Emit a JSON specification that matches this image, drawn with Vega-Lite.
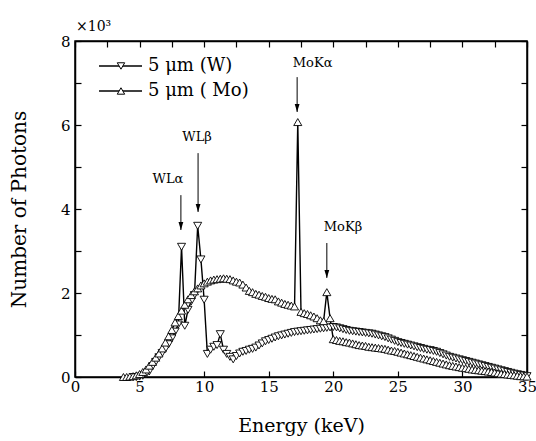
{
"$schema":"https://vega.github.io/schema/vega-lite/v6.json",
"width":452,"height":336,
"autosize":{"type":"none"},
"padding":{"left":75,"top":41,"right":9,"bottom":64},
"background":"white",
"config":{
 "font":"DejaVu Serif",
 "view":{"stroke":"black","strokeWidth":1.5},
 "axis":{"domainColor":"black","domainWidth":1.5,"tickColor":"black","tickWidth":1.2,"tickSize":-6,"labelFont":"DejaVu Serif","titleFont":"DejaVu Serif","labelFontSize":15,"labelColor":"black","titleFontSize":19,"titleFontWeight":"normal","titleColor":"black","grid":false,"labelOverlap":false,"labelFlush":false}
},
"title":{"text":"×10³","anchor":"start","frame":"group","font":"DejaVu Serif","fontSize":14,"fontWeight":"normal","color":"black","offset":0,"dx":1},
"datasets":{
"spectra":[
{"energy":4.5,"photons":0,"series":"5 μm (W)"},{"energy":4.75,"photons":0,"series":"5 μm (W)"},{"energy":5,"photons":10,"series":"5 μm (W)"},{"energy":5.25,"photons":30,"series":"5 μm (W)"},{"energy":5.5,"photons":70,"series":"5 μm (W)"},{"energy":5.75,"photons":130,"series":"5 μm (W)"},{"energy":6,"photons":250,"series":"5 μm (W)"},{"energy":6.25,"photons":360,"series":"5 μm (W)"},{"energy":6.5,"photons":470,"series":"5 μm (W)"},{"energy":6.75,"photons":570,"series":"5 μm (W)"},{"energy":7,"photons":670,"series":"5 μm (W)"},{"energy":7.25,"photons":780,"series":"5 μm (W)"},{"energy":7.5,"photons":920,"series":"5 μm (W)"},{"energy":7.75,"photons":1080,"series":"5 μm (W)"},{"energy":8,"photons":1250,"series":"5 μm (W)"},{"energy":8.25,"photons":3100,"series":"5 μm (W)"},{"energy":8.5,"photons":1220,"series":"5 μm (W)"},{"energy":8.75,"photons":1600,"series":"5 μm (W)"},{"energy":9,"photons":1800,"series":"5 μm (W)"},{"energy":9.25,"photons":1950,"series":"5 μm (W)"},{"energy":9.5,"photons":3600,"series":"5 μm (W)"},{"energy":9.75,"photons":2800,"series":"5 μm (W)"},{"energy":10,"photons":1840,"series":"5 μm (W)"},{"energy":10.25,"photons":550,"series":"5 μm (W)"},{"energy":10.5,"photons":650,"series":"5 μm (W)"},{"energy":10.75,"photons":720,"series":"5 μm (W)"},{"energy":11,"photons":760,"series":"5 μm (W)"},{"energy":11.25,"photons":1020,"series":"5 μm (W)"},{"energy":11.5,"photons":650,"series":"5 μm (W)"},{"energy":11.75,"photons":550,"series":"5 μm (W)"},{"energy":12,"photons":480,"series":"5 μm (W)"},{"energy":12.25,"photons":420,"series":"5 μm (W)"},{"energy":12.5,"photons":500,"series":"5 μm (W)"},{"energy":12.75,"photons":560,"series":"5 μm (W)"},{"energy":13,"photons":600,"series":"5 μm (W)"},{"energy":13.25,"photons":620,"series":"5 μm (W)"},{"energy":13.5,"photons":650,"series":"5 μm (W)"},{"energy":13.75,"photons":670,"series":"5 μm (W)"},{"energy":14,"photons":700,"series":"5 μm (W)"},{"energy":14.25,"photons":750,"series":"5 μm (W)"},{"energy":14.5,"photons":800,"series":"5 μm (W)"},{"energy":14.75,"photons":850,"series":"5 μm (W)"},{"energy":15,"photons":880,"series":"5 μm (W)"},{"energy":15.25,"photons":910,"series":"5 μm (W)"},{"energy":15.5,"photons":940,"series":"5 μm (W)"},{"energy":15.75,"photons":970,"series":"5 μm (W)"},{"energy":16,"photons":990,"series":"5 μm (W)"},{"energy":16.25,"photons":1010,"series":"5 μm (W)"},{"energy":16.5,"photons":1030,"series":"5 μm (W)"},{"energy":16.75,"photons":1050,"series":"5 μm (W)"},{"energy":17,"photons":1070,"series":"5 μm (W)"},{"energy":17.25,"photons":1080,"series":"5 μm (W)"},{"energy":17.5,"photons":1090,"series":"5 μm (W)"},{"energy":17.75,"photons":1100,"series":"5 μm (W)"},{"energy":18,"photons":1110,"series":"5 μm (W)"},{"energy":18.25,"photons":1120,"series":"5 μm (W)"},{"energy":18.5,"photons":1130,"series":"5 μm (W)"},{"energy":18.75,"photons":1140,"series":"5 μm (W)"},{"energy":19,"photons":1150,"series":"5 μm (W)"},{"energy":19.25,"photons":1160,"series":"5 μm (W)"},{"energy":19.5,"photons":1170,"series":"5 μm (W)"},{"energy":19.75,"photons":1180,"series":"5 μm (W)"},{"energy":20,"photons":1190,"series":"5 μm (W)"},{"energy":20.25,"photons":1180,"series":"5 μm (W)"},{"energy":20.5,"photons":1160,"series":"5 μm (W)"},{"energy":20.75,"photons":1140,"series":"5 μm (W)"},{"energy":21,"photons":1120,"series":"5 μm (W)"},{"energy":21.25,"photons":1100,"series":"5 μm (W)"},{"energy":21.5,"photons":1090,"series":"5 μm (W)"},{"energy":21.75,"photons":1080,"series":"5 μm (W)"},{"energy":22,"photons":1070,"series":"5 μm (W)"},{"energy":22.25,"photons":1060,"series":"5 μm (W)"},{"energy":22.5,"photons":1050,"series":"5 μm (W)"},{"energy":22.75,"photons":1040,"series":"5 μm (W)"},{"energy":23,"photons":1030,"series":"5 μm (W)"},{"energy":23.25,"photons":1010,"series":"5 μm (W)"},{"energy":23.5,"photons":990,"series":"5 μm (W)"},{"energy":23.75,"photons":970,"series":"5 μm (W)"},{"energy":24,"photons":950,"series":"5 μm (W)"},{"energy":24.25,"photons":920,"series":"5 μm (W)"},{"energy":24.5,"photons":890,"series":"5 μm (W)"},{"energy":24.75,"photons":860,"series":"5 μm (W)"},{"energy":25,"photons":830,"series":"5 μm (W)"},{"energy":25.25,"photons":810,"series":"5 μm (W)"},{"energy":25.5,"photons":790,"series":"5 μm (W)"},{"energy":25.75,"photons":770,"series":"5 μm (W)"},{"energy":26,"photons":750,"series":"5 μm (W)"},{"energy":26.25,"photons":730,"series":"5 μm (W)"},{"energy":26.5,"photons":710,"series":"5 μm (W)"},{"energy":26.75,"photons":690,"series":"5 μm (W)"},{"energy":27,"photons":670,"series":"5 μm (W)"},{"energy":27.25,"photons":650,"series":"5 μm (W)"},{"energy":27.5,"photons":640,"series":"5 μm (W)"},{"energy":27.75,"photons":620,"series":"5 μm (W)"},{"energy":28,"photons":600,"series":"5 μm (W)"},{"energy":28.25,"photons":570,"series":"5 μm (W)"},{"energy":28.5,"photons":540,"series":"5 μm (W)"},{"energy":28.75,"photons":510,"series":"5 μm (W)"},{"energy":29,"photons":480,"series":"5 μm (W)"},{"energy":29.25,"photons":460,"series":"5 μm (W)"},{"energy":29.5,"photons":440,"series":"5 μm (W)"},{"energy":29.75,"photons":420,"series":"5 μm (W)"},{"energy":30,"photons":400,"series":"5 μm (W)"},{"energy":30.25,"photons":380,"series":"5 μm (W)"},{"energy":30.5,"photons":360,"series":"5 μm (W)"},{"energy":30.75,"photons":340,"series":"5 μm (W)"},{"energy":31,"photons":320,"series":"5 μm (W)"},{"energy":31.25,"photons":300,"series":"5 μm (W)"},{"energy":31.5,"photons":280,"series":"5 μm (W)"},{"energy":31.75,"photons":260,"series":"5 μm (W)"},{"energy":32,"photons":240,"series":"5 μm (W)"},{"energy":32.25,"photons":220,"series":"5 μm (W)"},{"energy":32.5,"photons":200,"series":"5 μm (W)"},{"energy":32.75,"photons":180,"series":"5 μm (W)"},{"energy":33,"photons":160,"series":"5 μm (W)"},{"energy":33.25,"photons":140,"series":"5 μm (W)"},{"energy":33.5,"photons":120,"series":"5 μm (W)"},{"energy":33.75,"photons":100,"series":"5 μm (W)"},{"energy":34,"photons":80,"series":"5 μm (W)"},{"energy":34.25,"photons":65,"series":"5 μm (W)"},{"energy":34.5,"photons":50,"series":"5 μm (W)"},{"energy":34.75,"photons":35,"series":"5 μm (W)"},{"energy":35,"photons":20,"series":"5 μm (W)"},
{"energy":3.75,"photons":0,"series":"5 μm ( Mo)"},{"energy":4,"photons":0,"series":"5 μm ( Mo)"},{"energy":4.25,"photons":10,"series":"5 μm ( Mo)"},{"energy":4.5,"photons":20,"series":"5 μm ( Mo)"},{"energy":4.75,"photons":40,"series":"5 μm ( Mo)"},{"energy":5,"photons":70,"series":"5 μm ( Mo)"},{"energy":5.25,"photons":120,"series":"5 μm ( Mo)"},{"energy":5.5,"photons":180,"series":"5 μm ( Mo)"},{"energy":5.75,"photons":270,"series":"5 μm ( Mo)"},{"energy":6,"photons":360,"series":"5 μm ( Mo)"},{"energy":6.25,"photons":460,"series":"5 μm ( Mo)"},{"energy":6.5,"photons":560,"series":"5 μm ( Mo)"},{"energy":6.75,"photons":680,"series":"5 μm ( Mo)"},{"energy":7,"photons":820,"series":"5 μm ( Mo)"},{"energy":7.25,"photons":970,"series":"5 μm ( Mo)"},{"energy":7.5,"photons":1120,"series":"5 μm ( Mo)"},{"energy":7.75,"photons":1300,"series":"5 μm ( Mo)"},{"energy":8,"photons":1450,"series":"5 μm ( Mo)"},{"energy":8.25,"photons":1580,"series":"5 μm ( Mo)"},{"energy":8.5,"photons":1720,"series":"5 μm ( Mo)"},{"energy":8.75,"photons":1850,"series":"5 μm ( Mo)"},{"energy":9,"photons":1950,"series":"5 μm ( Mo)"},{"energy":9.25,"photons":2040,"series":"5 μm ( Mo)"},{"energy":9.5,"photons":2110,"series":"5 μm ( Mo)"},{"energy":9.75,"photons":2180,"series":"5 μm ( Mo)"},{"energy":10,"photons":2230,"series":"5 μm ( Mo)"},{"energy":10.25,"photons":2270,"series":"5 μm ( Mo)"},{"energy":10.5,"photons":2300,"series":"5 μm ( Mo)"},{"energy":10.75,"photons":2320,"series":"5 μm ( Mo)"},{"energy":11,"photons":2330,"series":"5 μm ( Mo)"},{"energy":11.25,"photons":2340,"series":"5 μm ( Mo)"},{"energy":11.5,"photons":2350,"series":"5 μm ( Mo)"},{"energy":11.75,"photons":2340,"series":"5 μm ( Mo)"},{"energy":12,"photons":2330,"series":"5 μm ( Mo)"},{"energy":12.25,"photons":2300,"series":"5 μm ( Mo)"},{"energy":12.5,"photons":2270,"series":"5 μm ( Mo)"},{"energy":12.75,"photons":2250,"series":"5 μm ( Mo)"},{"energy":13,"photons":2200,"series":"5 μm ( Mo)"},{"energy":13.25,"photons":2130,"series":"5 μm ( Mo)"},{"energy":13.5,"photons":2050,"series":"5 μm ( Mo)"},{"energy":13.75,"photons":2020,"series":"5 μm ( Mo)"},{"energy":14,"photons":1980,"series":"5 μm ( Mo)"},{"energy":14.25,"photons":1960,"series":"5 μm ( Mo)"},{"energy":14.5,"photons":1930,"series":"5 μm ( Mo)"},{"energy":14.75,"photons":1910,"series":"5 μm ( Mo)"},{"energy":15,"photons":1880,"series":"5 μm ( Mo)"},{"energy":15.25,"photons":1860,"series":"5 μm ( Mo)"},{"energy":15.5,"photons":1850,"series":"5 μm ( Mo)"},{"energy":15.75,"photons":1800,"series":"5 μm ( Mo)"},{"energy":16,"photons":1770,"series":"5 μm ( Mo)"},{"energy":16.25,"photons":1740,"series":"5 μm ( Mo)"},{"energy":16.5,"photons":1720,"series":"5 μm ( Mo)"},{"energy":16.75,"photons":1700,"series":"5 μm ( Mo)"},{"energy":17,"photons":1680,"series":"5 μm ( Mo)"},{"energy":17.25,"photons":6070,"series":"5 μm ( Mo)"},{"energy":17.5,"photons":1550,"series":"5 μm ( Mo)"},{"energy":17.75,"photons":1520,"series":"5 μm ( Mo)"},{"energy":18,"photons":1500,"series":"5 μm ( Mo)"},{"energy":18.25,"photons":1470,"series":"5 μm ( Mo)"},{"energy":18.5,"photons":1440,"series":"5 μm ( Mo)"},{"energy":18.75,"photons":1400,"series":"5 μm ( Mo)"},{"energy":19,"photons":1350,"series":"5 μm ( Mo)"},{"energy":19.25,"photons":1330,"series":"5 μm ( Mo)"},{"energy":19.5,"photons":2020,"series":"5 μm ( Mo)"},{"energy":19.75,"photons":1400,"series":"5 μm ( Mo)"},{"energy":20,"photons":900,"series":"5 μm ( Mo)"},{"energy":20.25,"photons":880,"series":"5 μm ( Mo)"},{"energy":20.5,"photons":860,"series":"5 μm ( Mo)"},{"energy":20.75,"photons":850,"series":"5 μm ( Mo)"},{"energy":21,"photons":830,"series":"5 μm ( Mo)"},{"energy":21.25,"photons":820,"series":"5 μm ( Mo)"},{"energy":21.5,"photons":800,"series":"5 μm ( Mo)"},{"energy":21.75,"photons":780,"series":"5 μm ( Mo)"},{"energy":22,"photons":760,"series":"5 μm ( Mo)"},{"energy":22.25,"photons":750,"series":"5 μm ( Mo)"},{"energy":22.5,"photons":740,"series":"5 μm ( Mo)"},{"energy":22.75,"photons":720,"series":"5 μm ( Mo)"},{"energy":23,"photons":710,"series":"5 μm ( Mo)"},{"energy":23.25,"photons":700,"series":"5 μm ( Mo)"},{"energy":23.5,"photons":690,"series":"5 μm ( Mo)"},{"energy":23.75,"photons":680,"series":"5 μm ( Mo)"},{"energy":24,"photons":670,"series":"5 μm ( Mo)"},{"energy":24.25,"photons":650,"series":"5 μm ( Mo)"},{"energy":24.5,"photons":630,"series":"5 μm ( Mo)"},{"energy":24.75,"photons":620,"series":"5 μm ( Mo)"},{"energy":25,"photons":600,"series":"5 μm ( Mo)"},{"energy":25.25,"photons":580,"series":"5 μm ( Mo)"},{"energy":25.5,"photons":560,"series":"5 μm ( Mo)"},{"energy":25.75,"photons":540,"series":"5 μm ( Mo)"},{"energy":26,"photons":520,"series":"5 μm ( Mo)"},{"energy":26.25,"photons":500,"series":"5 μm ( Mo)"},{"energy":26.5,"photons":480,"series":"5 μm ( Mo)"},{"energy":26.75,"photons":460,"series":"5 μm ( Mo)"},{"energy":27,"photons":440,"series":"5 μm ( Mo)"},{"energy":27.25,"photons":420,"series":"5 μm ( Mo)"},{"energy":27.5,"photons":400,"series":"5 μm ( Mo)"},{"energy":27.75,"photons":380,"series":"5 μm ( Mo)"},{"energy":28,"photons":360,"series":"5 μm ( Mo)"},{"energy":28.25,"photons":340,"series":"5 μm ( Mo)"},{"energy":28.5,"photons":320,"series":"5 μm ( Mo)"},{"energy":28.75,"photons":300,"series":"5 μm ( Mo)"},{"energy":29,"photons":280,"series":"5 μm ( Mo)"},{"energy":29.25,"photons":265,"series":"5 μm ( Mo)"},{"energy":29.5,"photons":250,"series":"5 μm ( Mo)"},{"energy":29.75,"photons":235,"series":"5 μm ( Mo)"},{"energy":30,"photons":220,"series":"5 μm ( Mo)"},{"energy":30.25,"photons":210,"series":"5 μm ( Mo)"},{"energy":30.5,"photons":195,"series":"5 μm ( Mo)"},{"energy":30.75,"photons":180,"series":"5 μm ( Mo)"},{"energy":31,"photons":170,"series":"5 μm ( Mo)"},{"energy":31.25,"photons":160,"series":"5 μm ( Mo)"},{"energy":31.5,"photons":150,"series":"5 μm ( Mo)"},{"energy":31.75,"photons":140,"series":"5 μm ( Mo)"},{"energy":32,"photons":130,"series":"5 μm ( Mo)"},{"energy":32.25,"photons":120,"series":"5 μm ( Mo)"},{"energy":32.5,"photons":105,"series":"5 μm ( Mo)"},{"energy":32.75,"photons":90,"series":"5 μm ( Mo)"},{"energy":33,"photons":80,"series":"5 μm ( Mo)"},{"energy":33.25,"photons":70,"series":"5 μm ( Mo)"},{"energy":33.5,"photons":60,"series":"5 μm ( Mo)"},{"energy":33.75,"photons":50,"series":"5 μm ( Mo)"},{"energy":34,"photons":40,"series":"5 μm ( Mo)"},{"energy":34.25,"photons":30,"series":"5 μm ( Mo)"},{"energy":34.5,"photons":20,"series":"5 μm ( Mo)"},{"energy":34.75,"photons":15,"series":"5 μm ( Mo)"},{"energy":35,"photons":10,"series":"5 μm ( Mo)"}
],
"notes":[
{"label":"WLα","tx":7.2,"ty":4710,"ax":8.2,"a1":4330,"a2":3500},
{"label":"WLβ","tx":9.45,"ty":5710,"ax":9.53,"a1":5330,"a2":3930},
{"label":"MoKα","tx":18.4,"ty":7480,"ax":17.2,"a1":7140,"a2":6310},
{"label":"MoKβ","tx":20.75,"ty":3570,"ax":19.5,"a1":3190,"a2":2360}
],
"key":[
{"series":"5 μm (W)","x1":1.86,"x2":5.19,"xm":3.56,"tx":5.65,"ky":7405},
{"series":"5 μm ( Mo)","x1":1.86,"x2":5.19,"xm":3.56,"tx":5.65,"ky":6810}
]
},
"layer":[
 {"layer":[
  {"data":{"name":"spectra"},
   "mark":{"type":"line","color":"black","strokeWidth":1.4},
   "encoding":{
    "x":{"field":"energy","type":"quantitative","title":"Energy (keV)","scale":{"domain":[0,35],"nice":false,"zero":false},
         "axis":{"orient":"bottom","values":[0,2.5,5,7.5,10,12.5,15,17.5,20,22.5,25,27.5,30,32.5,35],"labelExpr":"datum.value % 5 === 0 ? datum.label : ''","labelPadding":8,"titlePadding":22,
                 "encode":{"ticks":{"y2":{"value":{"expr":"datum.value % 5 === 0 ? -6 : -3"}}}}}},
    "y":{"field":"photons","type":"quantitative","title":"Number of Photons","scale":{"domain":[0,8000],"nice":false},
         "axis":{"orient":"left","values":[0,1000,2000,3000,4000,5000,6000,7000,8000],"labelExpr":"datum.value % 2000 === 0 ? format(datum.value / 1000, 'd') : ''","labelPadding":11,"titlePadding":31,"titleFontSize":20,
                 "encode":{"ticks":{"x2":{"value":{"expr":"datum.value % 2000 === 0 ? 6 : 3"}}}}}},
    "detail":{"field":"series","type":"nominal"}
   }},
  {"data":{"name":"spectra"},
   "mark":{"type":"point","filled":true,"fill":"white","stroke":"black","strokeWidth":0.9,"size":65,"opacity":1},
   "encoding":{
    "x":{"field":"energy","type":"quantitative","title":"Energy (keV)"},
    "y":{"field":"photons","type":"quantitative","title":"Number of Photons"},
    "shape":{"field":"series","type":"nominal","scale":{"domain":["5 μm (W)","5 μm ( Mo)"],"range":["triangle-down","triangle-up"]},"legend":null}
   }},
  {"data":{"name":"notes"},
   "mark":{"type":"rule","color":"black","strokeWidth":1},
   "encoding":{
    "x":{"field":"ax","type":"quantitative","title":"Energy (keV)"},
    "y":{"field":"a1","type":"quantitative","title":"Number of Photons"},
    "y2":{"field":"a2"}
   }},
  {"data":{"name":"notes"},
   "mark":{"type":"point","shape":"M-0.6,-2L0.6,-2L0,0Z","filled":true,"color":"black","size":64,"opacity":1},
   "encoding":{
    "x":{"field":"ax","type":"quantitative","title":"Energy (keV)"},
    "y":{"field":"a2","type":"quantitative","title":"Number of Photons"}
   }},
  {"data":{"name":"notes"},
   "mark":{"type":"text","font":"DejaVu Serif","fontSize":13,"color":"black","align":"center","baseline":"middle"},
   "encoding":{
    "x":{"field":"tx","type":"quantitative","title":"Energy (keV)"},
    "y":{"field":"ty","type":"quantitative","title":"Number of Photons"},
    "text":{"field":"label"}
   }},
  {"data":{"name":"key"},
   "mark":{"type":"rule","color":"black","strokeWidth":1.4},
   "encoding":{
    "x":{"field":"x1","type":"quantitative","title":"Energy (keV)"},
    "x2":{"field":"x2"},
    "y":{"field":"ky","type":"quantitative","title":"Number of Photons"}
   }},
  {"data":{"name":"key"},
   "mark":{"type":"point","filled":true,"fill":"white","stroke":"black","strokeWidth":1,"size":55,"opacity":1},
   "encoding":{
    "x":{"field":"xm","type":"quantitative","title":"Energy (keV)"},
    "y":{"field":"ky","type":"quantitative","title":"Number of Photons"},
    "shape":{"field":"series","type":"nominal","legend":null}
   }},
  {"data":{"name":"key"},
   "mark":{"type":"text","font":"DejaVu Serif","fontSize":18,"color":"black","align":"left","baseline":"middle"},
   "encoding":{
    "x":{"field":"tx","type":"quantitative","title":"Energy (keV)"},
    "y":{"field":"ky","type":"quantitative","title":"Number of Photons"},
    "text":{"field":"series"}
   }}
 ]},
 {"data":{"name":"spectra"},
  "mark":{"type":"point","opacity":0},
  "encoding":{
   "x":{"field":"energy","type":"quantitative","scale":{"domain":[0,35],"nice":false,"zero":false},
        "axis":{"orient":"top","values":[0,2.5,5,7.5,10,12.5,15,17.5,20,22.5,25,27.5,30,32.5,35],"labels":false,"title":null,
                "encode":{"ticks":{"y2":{"value":{"expr":"datum.value % 5 === 0 ? 6 : 3"}}}}}},
   "y":{"field":"photons","type":"quantitative","scale":{"domain":[0,8000],"nice":false},
        "axis":{"orient":"right","values":[0,1000,2000,3000,4000,5000,6000,7000,8000],"labels":false,"title":null,
                "encode":{"ticks":{"x2":{"value":{"expr":"datum.value % 2000 === 0 ? -6 : -3"}}}}}}
  }}
],
"resolve":{"axis":{"x":"independent","y":"independent"}}
}
